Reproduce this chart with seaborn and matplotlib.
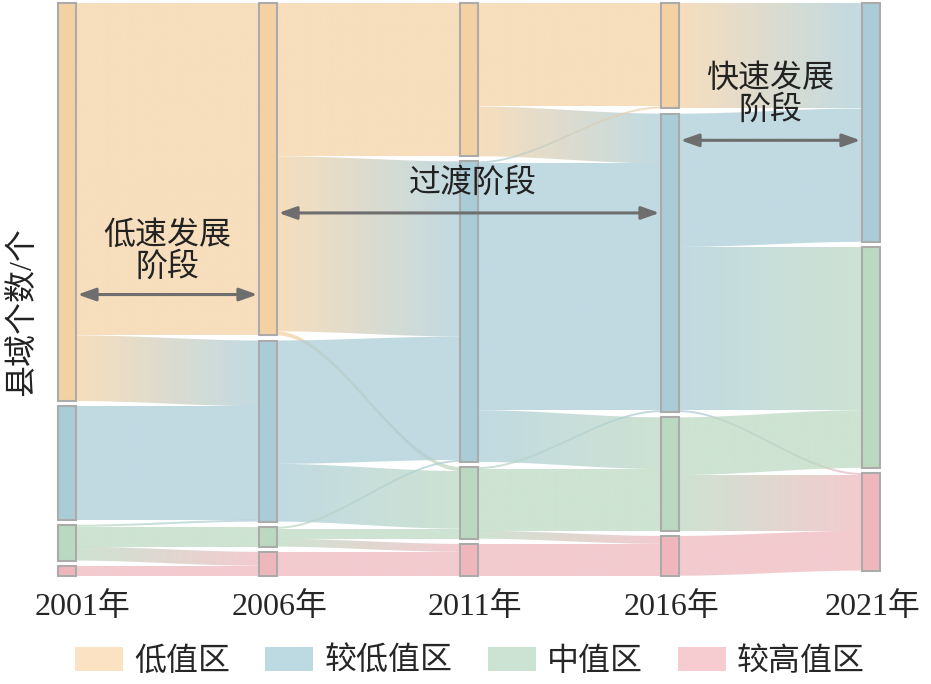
"""Alluvial (Sankey) chart of county value classes, 2001-2021, seaborn + matplotlib"""
import numpy as np
import matplotlib
matplotlib.use("Agg")
import matplotlib.pyplot as plt
import seaborn as sns
from matplotlib.patches import Polygon, Patch
from matplotlib.colors import to_rgba

years = ["2001年", "2006年", "2011年", "2016年", "2021年"]
classes = ["低值区", "较低值区", "中值区", "较高值区"]

# number of counties per class in each year
counts_2001 = [200, 57, 18, 5]
counts_2006 = [167, 91, 10, 12]
counts_2011 = [77, 151, 36, 16]
counts_2016 = [53, 150, 57, 20]
counts_2021 = [0, 120, 111, 49]

# transition matrices, rows = from class, cols = to class
flow_01_06 = [[167, 33, 0, 0],
              [0, 57, 0, 0],
              [0, 1, 10, 7],
              [0, 0, 0, 5]]
flow_06_11 = [[77, 88, 2, 0],
              [0, 62, 29, 0],
              [0, 1, 5, 4],
              [0, 0, 0, 12]]
flow_11_16 = [[52, 25, 0, 0],
              [1, 124, 26, 0],
              [0, 1, 31, 4],
              [0, 0, 0, 16]]
flow_16_21 = [[0, 53, 0, 0],
              [0, 67, 82, 1],
              [0, 0, 29, 28],
              [0, 0, 0, 20]]

node_colors = ["#F4D1A3", "#A9CCD7", "#BBD8C1", "#EFB7BC"]
legend_colors = ["#FAE2C2", "#BDDAE3", "#CCE2D2", "#F7CCD0"]

FONT = ["Liberation Serif", "Noto Sans CJK SC", "DejaVu Sans"]


def node_positions(counts, gap):
    tops, y = [], 0.0
    for c in counts:
        tops.append(y)
        if c > 0:
            y += c + gap
    return tops


def smooth(t):
    return 3 * t ** 2 - 2 * t ** 3


def draw_flow(ax, x0, x1, a0, a1, b0, b1, c0, c1, alpha=0.72):
    t = np.linspace(0, 1, 80)
    xs = x0 + (x1 - x0) * t
    top = a0 + (a1 - a0) * smooth(t)
    bot = b0 + (b1 - b0) * smooth(t)
    verts = np.vstack([np.column_stack([xs, top]),
                       np.column_stack([xs[::-1], bot[::-1]])])
    poly = Polygon(verts, closed=True, facecolor="none", edgecolor="none",
                   transform=ax.transData)
    ax.add_patch(poly)
    ca, cb = np.array(to_rgba(c0)), np.array(to_rgba(c1))
    grad = np.linspace(0, 1, 256)[:, None]
    img = (ca[None, :] * (1 - grad) + cb[None, :] * grad)[None, :, :]
    img[..., 3] = alpha
    im = ax.imshow(img, extent=[x0, x1, max(b0, b1), min(a0, a1)],
                   aspect="auto", interpolation="bilinear", zorder=1)
    im.set_clip_path(poly)


def main():
    sns.set_theme(style="white")
    plt.rcParams["font.family"] = FONT

    all_counts = [counts_2001, counts_2006, counts_2011, counts_2016, counts_2021]
    all_flows = [flow_01_06, flow_06_11, flow_11_16, flow_16_21]
    gap = 2.6
    w = 0.085

    fig = plt.figure(figsize=(9.31, 6.84), dpi=100)
    ax = fig.add_axes([50 / 931, 1 - 580 / 684, 831 / 931, 580 / 684])

    tops = [node_positions(c, gap) for c in all_counts]

    # flows: source side ordered by target, target side ordered by source
    for i, fm in enumerate(all_flows):
        fm = np.array(fm)
        src_start = {}
        for s in range(4):
            y = tops[i][s]
            for t in range(4):
                src_start[(s, t)] = y
                y += fm[s, t]
        tgt_start = {}
        for t in range(4):
            y = tops[i + 1][t]
            for s in range(4):
                tgt_start[(s, t)] = y
                y += fm[s, t]
        for s in range(4):
            for t in range(4):
                v = fm[s, t]
                if v <= 0:
                    continue
                a0 = src_start[(s, t)]
                a1 = tgt_start[(s, t)]
                draw_flow(ax, i + w / 2, i + 1 - w / 2, a0, a1, a0 + v, a1 + v,
                          node_colors[s], node_colors[t])

    # nodes
    for i, counts in enumerate(all_counts):
        for k, c in enumerate(counts):
            if c <= 0:
                continue
            ax.bar(i, c, bottom=tops[i][k], width=w, color=node_colors[k],
                   edgecolor="#ABABAB", linewidth=1.5, zorder=3)

    ax.set_xlim((50 - 67) / 201, (881 - 67) / 201)
    ax.set_ylim((580 - 3) / 1.99, -3 / 1.99)
    # year labels sit a little right of the node columns in the original
    ax.set_xticks([0.075, 1.06, 2.03, 3.01, 4.01])
    ax.set_xticklabels(years, fontsize=23)
    ax.set_yticks([])
    ax.tick_params(axis="x", length=0, pad=9)
    for sp in ax.spines.values():
        sp.set_visible(False)

    # stage annotations
    arrow_kw = dict(arrowstyle="<|-|>,head_length=0.9,head_width=0.32",
                    color="#6E6E6E", lw=2.2, shrinkA=0, shrinkB=0)
    ax.annotate("", xy=(w / 2 + 0.01, 146.5), xytext=(1 - w / 2 - 0.01, 146.5),
                arrowprops=arrow_kw, zorder=5)
    ax.text(0.5, 125, "低速发展\n阶段", ha="center", va="center", fontsize=23,
            linespacing=1.05, color="#222222", zorder=5)
    ax.annotate("", xy=(1 + w / 2 + 0.01, 105.5), xytext=(3 - w / 2 - 0.01, 105.5),
                arrowprops=arrow_kw, zorder=5)
    ax.text(2.02, 90.5, "过渡阶段", ha="center", va="center", fontsize=23,
            color="#222222", zorder=5)
    ax.annotate("", xy=(3 + w / 2 + 0.01, 69), xytext=(4 - w / 2 - 0.01, 69),
                arrowprops=arrow_kw, zorder=5)
    ax.text(3.5, 46, "快速发展\n阶段", ha="center", va="center", fontsize=23,
            linespacing=1.05, color="#222222", zorder=5)

    fig.text(22 / 931, 1 - 312 / 684, "县域个数/个", rotation=90, ha="center",
             va="center", fontsize=23, color="#222222")

    handles = [Patch(facecolor=legend_colors[k], edgecolor="none", label=classes[k])
               for k in range(4)]
    fig.legend(handles=handles, loc="center", bbox_to_anchor=(0.505, 1 - 662 / 684),
               ncol=4, frameon=False, fontsize=23, handlelength=1.5,
               handleheight=0.8, handletextpad=0.35, columnspacing=1.1)

    fig.savefig("out.png", dpi=100)


if __name__ == "__main__":
    main()
